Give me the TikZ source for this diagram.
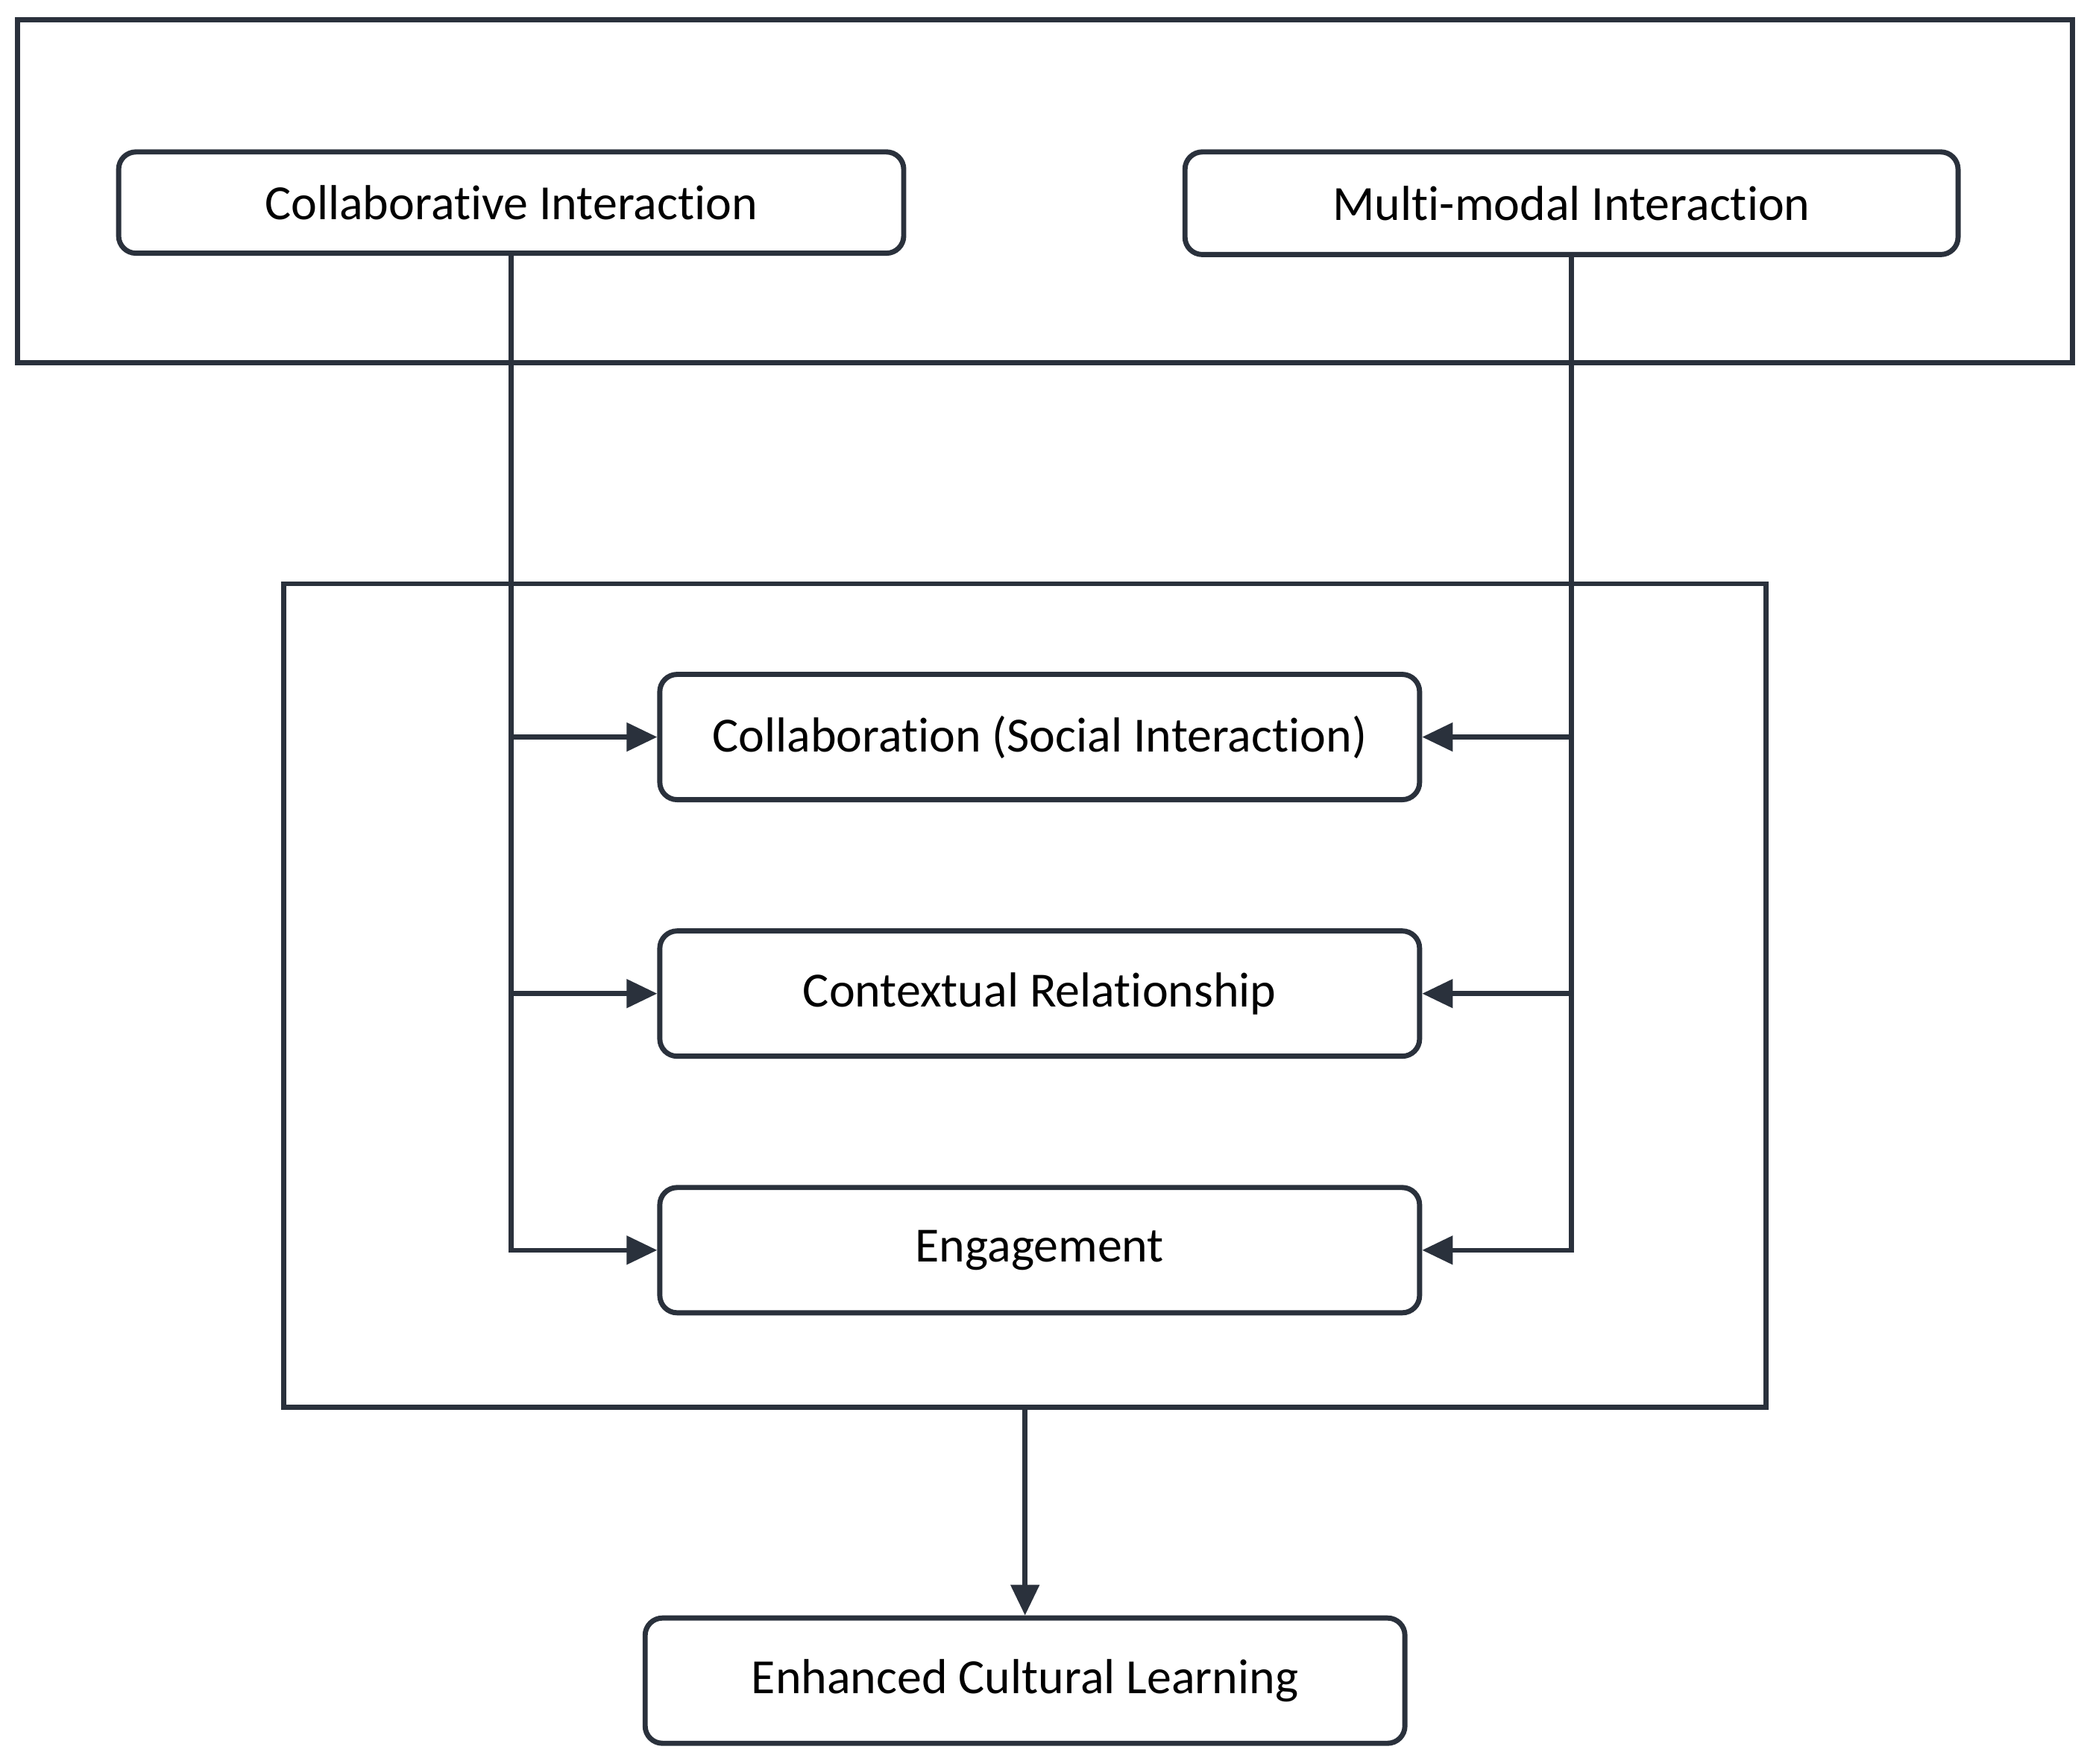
\documentclass[tikz,border=0pt]{standalone}
\usepackage{fontspec}
\setmainfont{Carlito}[RawFeature={-liga;-clig;-calt;-dlig}]
\usetikzlibrary{arrows.meta}
\definecolor{linedark}{HTML}{2A313C}
\tikzset{
  box/.style={draw=linedark, line width=1.1pt, rounded corners=1.3mm, minimum width=5.7cm, minimum height=0.94cm, inner sep=0pt, font=\fontsize{10.5}{12}\selectfont},
  frame/.style={draw=linedark, line width=1.1pt},
  link/.style={draw=linedark, line width=1.05pt, -{Triangle[length=2.3mm,width=2.1mm]}},
}
\begin{document}
\begin{tikzpicture}
    \useasboundingbox (0,0) rectangle (15.68,-13.23);
    % top frame
    \draw[frame] (0.13,-0.15) rectangle (15.55,-2.72);
    \node[box, minimum width=5.89cm, minimum height=0.76cm] (collab) at (3.835,-1.52) {Collaborative Interaction};
    \node[box, minimum width=5.80cm, minimum height=0.77cm] (multi) at (11.79,-1.525) {Multi-modal Interaction};
    % middle frame
    \node[frame, minimum width=11.12cm, minimum height=6.18cm, inner sep=0pt] (core) at (7.69,-7.47) {};
    \node[box] (social) at (7.80,-5.53) {Collaboration (Social Interaction)};
    \node[box] (context) at (7.80,-7.455) {Contextual Relationship};
    \node[box] (engage) at (7.80,-9.38) {Engagement};
    \node[box] (learning) at (7.69,-12.61) {Enhanced Cultural Learning};
    % connectors
    \draw[link] (collab.south) |- (engage.west);
    \draw[link] (collab.south |- social.west) -- (social.west);
    \draw[link] (collab.south |- context.west) -- (context.west);
    \draw[link] (multi.south) |- (engage.east);
    \draw[link] (multi.south |- social.east) -- (social.east);
    \draw[link] (multi.south |- context.east) -- (context.east);
    \draw[link] (core.south) -- (learning.north);
\end{tikzpicture}
\end{document}
